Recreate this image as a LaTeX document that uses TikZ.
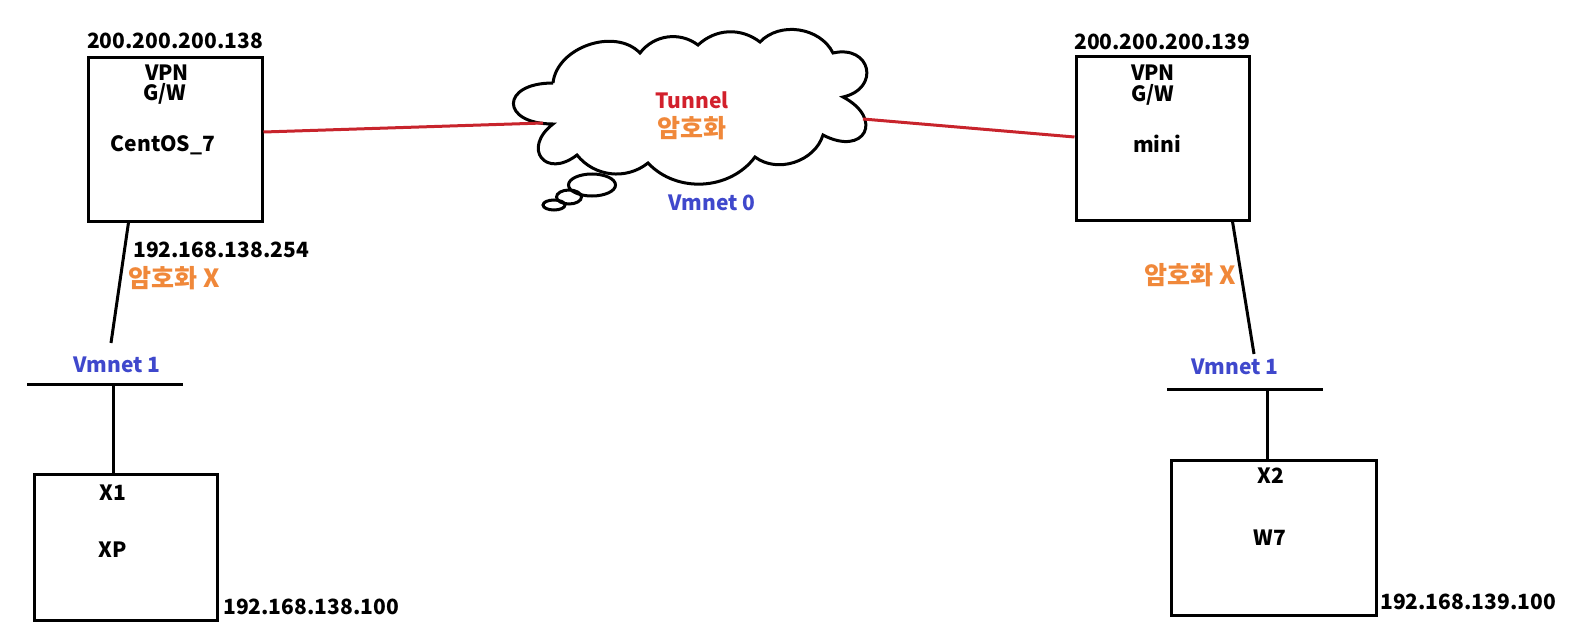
\documentclass[tikz,border=0pt]{standalone}
\usepackage{fontspec}
\setmainfont{Noto Sans CJK KR}
\definecolor{linered}{RGB}{200,36,44}
\definecolor{txtred}{RGB}{210,32,44}
\definecolor{txtorange}{RGB}{240,136,58}
\definecolor{txtblue}{RGB}{63,72,204}
\newcommand{\hg}[1]{{\fontsize{25}{28}\selectfont #1}}
\tikzset{
  box/.style={draw, line width=3pt, inner sep=0pt},
  lbl/.style={font=\fontsize{21}{24}\selectfont\bfseries, inner sep=0pt},
  wire/.style={line width=3pt},
  redwire/.style={line width=3pt, draw=linered},
}
\begin{document}
\begin{tikzpicture}[x=1pt,y=-1pt]
\useasboundingbox (0,0) rectangle (1592,642);
% boxes
\node[box, minimum width=174pt, minimum height=163pt] (gw1) at (175,139.5) {};
\node[box, minimum width=173pt, minimum height=163pt] (gw2) at (1162.5,138.5) {};
\node[box, minimum width=183pt, minimum height=146pt] (xp) at (125.5,547) {};
\node[box, minimum width=205pt, minimum height=155pt] (w7) at (1273.5,537.5) {};
% labels
\node[lbl] (ip1) at (175,41) {200.200.200.138};
\node[lbl] (vpn1) at (167,73) {VPN};
\node[lbl] (gwt1) at (165,94) {G/W};
\node[lbl] (os1) at (163,145) {CentOS\_7};
\node[lbl] (ip2) at (1162,42) {200.200.200.139};
\node[lbl] (vpn2) at (1153,73) {VPN};
\node[lbl] (gwt2) at (1153,95) {G/W};
\node[lbl] (os2) at (1157,144) {mini};
\node[lbl, text=txtred] (tun) at (692,100) {Tunnel};
\node[lbl, text=txtorange] (enc) at (692,128) {\hg{암호화}};
\node[lbl, text=txtblue] (vm0) at (712,203) {Vmnet 0};
\node[lbl] (ip3) at (221,250) {192.168.138.254};
\node[lbl, text=txtorange] (nx1) at (174,278) {\hg{암호화 X}};
\node[lbl, text=txtorange] (nx2) at (1190,275) {\hg{암호화 X}};
\node[lbl, text=txtblue] (vm1a) at (117,365) {Vmnet 1};
\node[lbl, text=txtblue] (vm1b) at (1235,367) {Vmnet 1};
\node[lbl] (x1) at (113,493) {X1};
\node[lbl] (xpt) at (113,550) {XP};
\node[lbl] (ip4) at (311,607) {192.168.138.100};
\node[lbl] (x2) at (1271,476) {X2};
\node[lbl] (w7t) at (1270,538) {W7};
\node[lbl] (ip5) at (1468,602) {192.168.139.100};
% cloud
\draw[wire] (553,83) to[bend left=65] (640,53) to[bend left=45] (698,45)
  to[bend left=40] (760,42) to[bend left=55] (833,53)
  to[bend left=90,looseness=2.2] (843,97) to[bend left=90,looseness=2.8] (823,135)
  to[bend left=55] (755,157) to[bend left=50] (648,163) to[bend left=45] (577,155)
  to[bend left=90,looseness=2.6] (553,124) to[bend left=90,looseness=3.3] (553,83);
\draw[wire] (592,185) ellipse [x radius=23.5pt, y radius=11pt];
\draw[wire] (569,197) ellipse [x radius=12.5pt, y radius=7pt];
\draw[wire] (554,205) ellipse [x radius=11pt, y radius=5pt];
\coordinate (cL) at (543,123);
\coordinate (cR) at (863,119);
% connectors
\draw[redwire] ([yshift=7.5pt]gw1.east) -- (cL);
\draw[redwire] (cR) -- ([yshift=1.5pt]gw2.west);
\coordinate (t1) at (111,343);
\coordinate (t2) at (1254,354);
\draw[wire] ([xshift=42pt]gw1.south west) -- (t1);
\draw[wire] ([xshift=-18pt]gw2.south east) -- (t2);
\coordinate (b1w) at (27,384);
\coordinate (b1e) at (183,384);
\coordinate (b2w) at (1167,389);
\coordinate (b2e) at (1323,389);
\draw[wire] (b1w) -- (b1e);
\draw[wire] (b2w) -- (b2e);
\draw[wire] ([xshift=-12.5pt]xp.north) -- ([xshift=-12.5pt]xp.north |- b1w);
\draw[wire] ([xshift=-6.5pt]w7.north) -- ([xshift=-6.5pt]w7.north |- b2w);
\end{tikzpicture}
\end{document}
